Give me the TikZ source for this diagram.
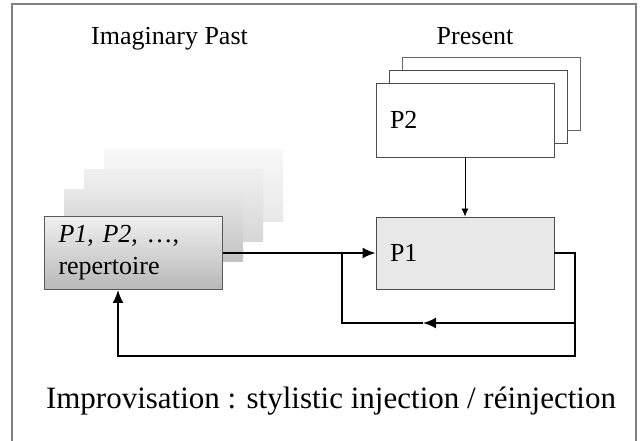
\documentclass[tikz,border=0pt]{standalone}
\usepackage{fontspec}
\setmainfont{Liberation Serif}
\usetikzlibrary{arrows.meta}
\usetikzlibrary{positioning}

\begin{document}
\begin{tikzpicture}[x=1pt,y=-1pt,
        box/.style={draw=black!70, line width=0.9pt, minimum width=178pt, minimum height=73pt,
            text width=150pt, align=left, inner sep=0pt, font=\fontsize{26}{32}\selectfont},
        ghost/.style={minimum width=179pt, minimum height=72pt, inner sep=0pt},
        title/.style={anchor=base, font=\fontsize{26}{31}\selectfont},
        flow/.style={line width=1.9pt, -{Latex[length=13pt,width=11pt]}},
        feed/.style={line width=1.9pt},
        drop/.style={line width=0.8pt, -{Latex[length=8pt,width=7pt]}}]
        \useasboundingbox (0,0) rectangle (641,441);
        \draw[black!50, line width=1.5pt] (12,445) -- (12,4) -- (636,4) -- (636,445);

        \node[title] (past) at (169.5,45) {Imaginary Past};
        \node[title] (now) at (475,45) {Present};

        % imaginary past
        \node[ghost, top color=black!3, bottom color=black!9] (g3) at (193.5,186) {};
        \node[ghost, top color=black!6, bottom color=black!16] (g2) at (173.5,206) {};
        \node[ghost, top color=black!9, bottom color=black!24] (g1) at (153.5,226) {};
        \node[box, draw=black!65, top color=black!6, bottom color=black!28] (rep) at (133.5,253)
            {\textit{P1}, \textit{P2}, \ldots,\\repertoire};

        % present
        \node[box, draw=black!60, fill=white] (p2c) at (491.5,93.5) {};
        \node[box, draw=black!70, fill=white] (p2b) at (478.5,106.5) {};
        \node[box, fill=white, minimum height=74pt] (p2) at (465,120) {P2};
        \node[box, fill=black!9, minimum height=72pt] (p1) at (465,253) {P1};

        \node[anchor=base, font=\fontsize{31}{37}\selectfont] (cap) at (331,409)
            {Improvisation : stylistic injection / réinjection};

        \coordinate (turn) at (575,253);
        \coordinate (low) at (575,356);
        \coordinate (mid) at (575,323);
        \coordinate (back) at (118,356);
        \coordinate (join) at (342,253);

        \draw[drop] (p2) -- (p1);
        \draw[flow] (rep) -- (p1);
        \draw[flow] (p1.east) -- (turn) -- (low) -- (back) -- (back |- rep.south);
        \draw[flow] (mid) -- (423,323);
        \draw[feed] (423,323) -- (mid -| join) -- (join);
    \end{tikzpicture}
\end{document}
